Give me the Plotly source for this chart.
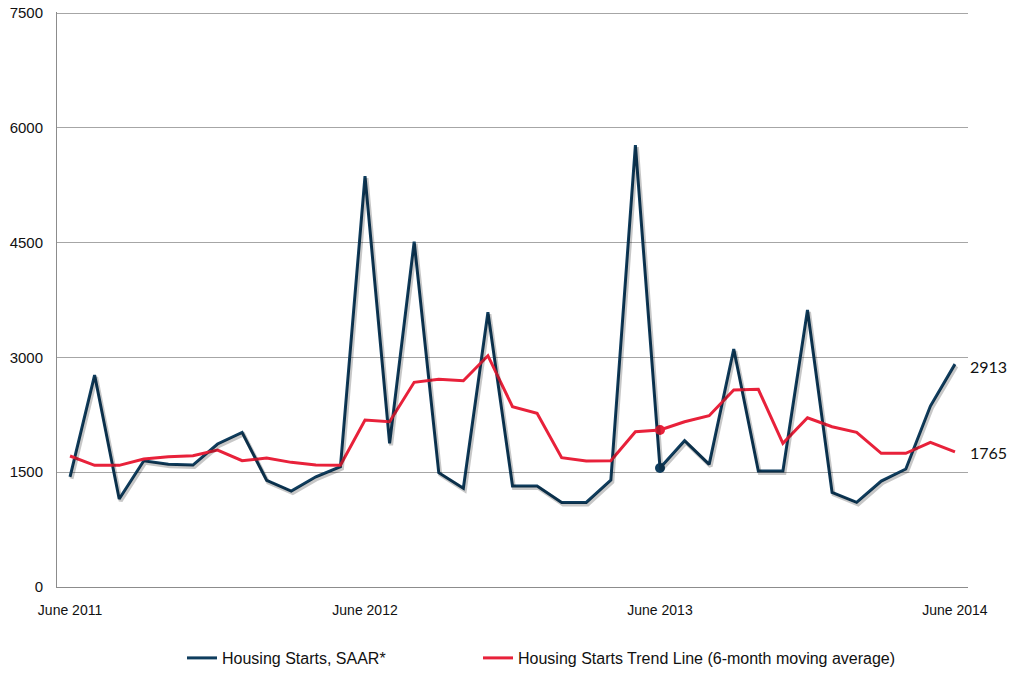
import plotly.graph_objects as go

month_names = ["Jun", "Jul", "Aug", "Sep", "Oct", "Nov", "Dec", "Jan", "Feb", "Mar", "Apr", "May"]
months = []
year = 2011
for k in range(37):
    m = month_names[k % 12]
    if m == "Jan":
        year += 1
    months.append(f"{m} {year}")

starts = [1440, 2770, 1150, 1650, 1603, 1594, 1869, 2021, 1394, 1254, 1440, 1572,
          5370, 1877, 4512, 1494, 1290, 3590, 1320, 1320, 1106, 1106, 1398, 5776,
          1555, 1912, 1603, 3110, 1516, 1516, 3620, 1237, 1106, 1385, 1542, 2365, 2913]
trend = [1712, 1590, 1590, 1672, 1703, 1716, 1790, 1650, 1686, 1629, 1594, 1590,
         2182, 2160, 2675, 2714, 2696, 3023, 2356, 2270, 1690, 1646, 1650, 2030,
         2052, 2160, 2239, 2574, 2583, 1877, 2212, 2095, 2021, 1747, 1747, 1891, 1765]

tick_vals = [months[0], months[12], months[24], months[36]]
tick_text = ["June 2011", "June 2012", "June 2013", "June 2014"]
y_ticks = [0, 1500, 3000, 4500, 6000, 7500]
highlight = 24

BLUE = "#0F3D5E"
RED = "#E8213A"

W, H = 1007, 665  # page body has an 8px margin
X_RANGE = [-0.53, 36.53]
Y_RANGE = [0, 7515]

fig = go.Figure()
# soft drop shadow of the blue series, drawn through slightly offset overlay axes
fig.add_trace(go.Scatter(x=months, y=starts, mode="lines", showlegend=False,
                         hoverinfo="skip", xaxis="x2", yaxis="y2",
                         line=dict(color="rgba(0,0,0,0.22)", width=4)))
fig.add_trace(go.Scatter(x=months, y=starts, mode="lines", name="Housing Starts, SAAR*",
                         line=dict(color=BLUE, width=3), legend="legend"))
fig.add_trace(go.Scatter(x=months, y=trend, mode="lines",
                         name="Housing Starts Trend Line (6-month moving average)",
                         line=dict(color=RED, width=3), legend="legend2"))
fig.add_trace(go.Scatter(x=[months[highlight]], y=[starts[highlight]], mode="markers",
                         marker=dict(color=BLUE, size=10), showlegend=False))
fig.add_trace(go.Scatter(x=[months[highlight]], y=[trend[highlight]], mode="markers",
                         marker=dict(color=RED, size=10), showlegend=False))

fig.add_annotation(x=months[-1], y=starts[-1], text=str(starts[-1]), showarrow=False,
                   xanchor="left", xshift=13, yshift=-2,
                   font=dict(family="Lato", size=16, color="#111"))
fig.add_annotation(x=months[-1], y=trend[-1], text=str(trend[-1]), showarrow=False,
                   xanchor="left", xshift=13, yshift=-1,
                   font=dict(family="Lato", size=16, color="#111"))

leg_common = dict(orientation="h", xref="container", yref="container",
                  xanchor="left", yanchor="middle", y=1 - 650 / H,
                  font=dict(size=16), bgcolor="rgba(0,0,0,0)")

dx = 1.5 / 24.58   # ~1.5 px in months
dy = 2.0 / 0.07653  # ~2 px in units

fig.update_layout(
    width=W, height=H,
    margin=dict(l=49, r=47, t=4, b=86),
    paper_bgcolor="white", plot_bgcolor="white",
    font=dict(family="Liberation Sans", size=14, color="#111"),
    xaxis=dict(type="category", range=X_RANGE, tickmode="array",
               tickvals=tick_vals, ticktext=tick_text, showgrid=False,
               showline=True, linecolor="#8c8c8c", linewidth=1, ticks="",
               tickfont=dict(size=14), ticklabelstandoff=10, automargin=False),
    yaxis=dict(range=Y_RANGE, tickvals=y_ticks, showgrid=True, gridcolor="#a6a6a6",
               gridwidth=1, showline=True, linecolor="#8c8c8c", linewidth=1, ticks="",
               zeroline=False, tickfont=dict(size=15), ticklabelstandoff=10,
               ticklabeloverflow="allow", automargin=False),
    xaxis2=dict(type="category", overlaying="x", range=[X_RANGE[0] - dx, X_RANGE[1] - dx],
                visible=False, categoryorder="array", categoryarray=months),
    yaxis2=dict(overlaying="y", range=[Y_RANGE[0] + dy, Y_RANGE[1] + dy], visible=False),
    legend=dict(x=(182 - 8) / W, **leg_common),
    legend2=dict(x=(478 - 8) / W, **leg_common),
    showlegend=True,
)

fig.write_html("out.html")
